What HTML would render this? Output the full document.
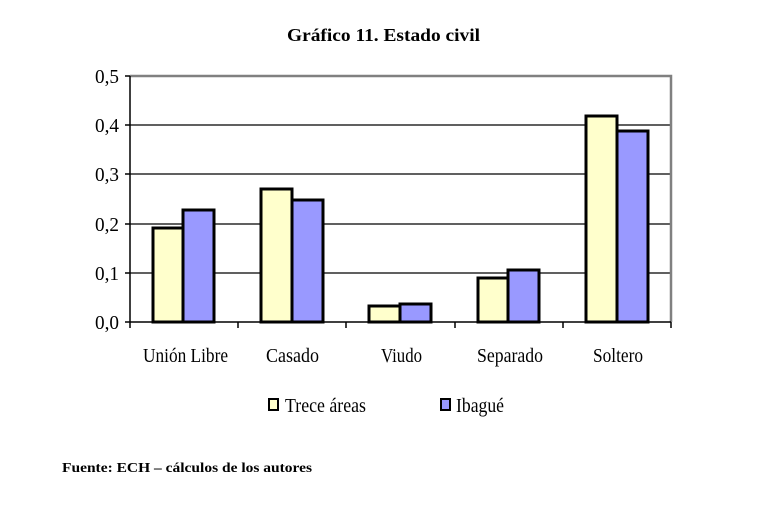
<!DOCTYPE html>
<html><head><meta charset="utf-8"><style>
body{margin:0;background:#fff;}
svg text{font-family:"Liberation Serif",serif;fill:#000;}
</style></head><body>
<svg width="778" height="514" xmlns="http://www.w3.org/2000/svg">
<rect width="778" height="514" fill="#fff"/>
<text x="287" y="41" font-size="18" font-weight="bold" textLength="193" lengthAdjust="spacingAndGlyphs">Gráfico 11. Estado civil</text>
<g stroke="#000" stroke-width="1.3">
<line x1="130" y1="125" x2="671" y2="125"/>
<line x1="130" y1="174" x2="671" y2="174"/>
<line x1="130" y1="224" x2="671" y2="224"/>
<line x1="130" y1="273" x2="671" y2="273"/>
</g>
<polyline points="130,76 671,76 671,322" fill="none" stroke="#808080" stroke-width="2.5"/>
<g stroke="#000" stroke-width="3">
<rect x="153" y="228" width="30" height="94" fill="#ffffcc"/>
<rect x="183" y="210" width="31" height="112" fill="#9999ff"/>
<rect x="261" y="189" width="31" height="133" fill="#ffffcc"/>
<rect x="292" y="200" width="31" height="122" fill="#9999ff"/>
<rect x="369" y="306" width="31" height="16" fill="#ffffcc"/>
<rect x="400" y="304" width="31" height="18" fill="#9999ff"/>
<rect x="478" y="278" width="30" height="44" fill="#ffffcc"/>
<rect x="508" y="270" width="31" height="52" fill="#9999ff"/>
<rect x="586" y="116" width="31" height="206" fill="#ffffcc"/>
<rect x="617" y="131" width="31" height="191" fill="#9999ff"/>
</g>
<g stroke="#000" stroke-width="1.5">
<line x1="130" y1="76" x2="130" y2="328"/>
<line x1="125" y1="322" x2="671" y2="322"/>
<line x1="125" y1="76" x2="130" y2="76"/>
<line x1="125" y1="125" x2="130" y2="125"/>
<line x1="125" y1="174" x2="130" y2="174"/>
<line x1="125" y1="224" x2="130" y2="224"/>
<line x1="125" y1="273" x2="130" y2="273"/>
<line x1="238" y1="322" x2="238" y2="328"/>
<line x1="346" y1="322" x2="346" y2="328"/>
<line x1="455" y1="322" x2="455" y2="328"/>
<line x1="563" y1="322" x2="563" y2="328"/>
<line x1="671" y1="322" x2="671" y2="328"/>
</g>
<g font-size="20" text-anchor="end">
<text x="119" y="83" textLength="24" lengthAdjust="spacingAndGlyphs">0,5</text>
<text x="119" y="132" textLength="24" lengthAdjust="spacingAndGlyphs">0,4</text>
<text x="119" y="181" textLength="24" lengthAdjust="spacingAndGlyphs">0,3</text>
<text x="119" y="231" textLength="24" lengthAdjust="spacingAndGlyphs">0,2</text>
<text x="119" y="280" textLength="24" lengthAdjust="spacingAndGlyphs">0,1</text>
<text x="119" y="329" textLength="24" lengthAdjust="spacingAndGlyphs">0,0</text>
</g>
<g font-size="20">
<text x="143" y="362" textLength="85" lengthAdjust="spacingAndGlyphs">Unión Libre</text>
<text x="266" y="362" textLength="53" lengthAdjust="spacingAndGlyphs">Casado</text>
<text x="381" y="362" textLength="41" lengthAdjust="spacingAndGlyphs">Viudo</text>
<text x="477" y="362" textLength="66" lengthAdjust="spacingAndGlyphs">Separado</text>
<text x="593" y="362" textLength="50" lengthAdjust="spacingAndGlyphs">Soltero</text>
</g>
<rect x="269" y="399" width="9" height="11" fill="#ffffcc" stroke="#000" stroke-width="2"/>
<text x="285" y="412" font-size="20" textLength="81" lengthAdjust="spacingAndGlyphs">Trece áreas</text>
<rect x="441" y="399" width="9" height="11" fill="#9999ff" stroke="#000" stroke-width="2"/>
<text x="456" y="412" font-size="20" textLength="48" lengthAdjust="spacingAndGlyphs">Ibagué</text>
<text x="62" y="472" font-size="14" font-weight="bold" textLength="250" lengthAdjust="spacingAndGlyphs">Fuente: ECH – cálculos de los autores</text>
</svg>
</body></html>
